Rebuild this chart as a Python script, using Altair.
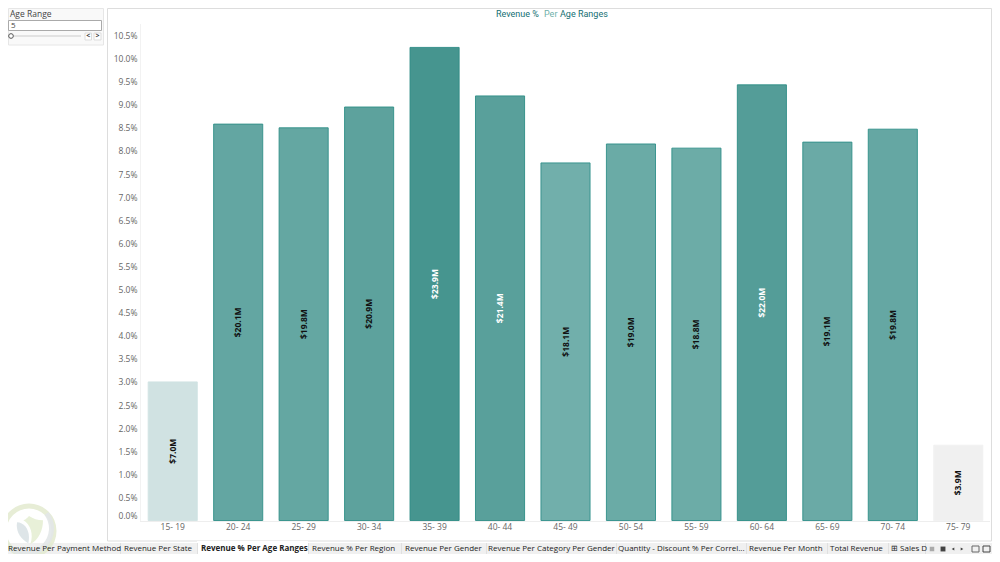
import altair as alt
import pandas as pd

categories = ["15- 19", "20- 24", "25- 29", "30- 34", "35- 39", "40- 44", "45- 49",
              "50- 54", "55- 59", "60- 64", "65- 69", "70- 74", "75- 79"]
share_pct = [3.0, 8.58, 8.50, 8.95, 10.24, 9.19, 7.74, 8.15, 8.06, 9.43, 8.19, 8.47, 1.63]
revenue_labels = ["$7.0M", "$20.1M", "$19.8M", "$20.9M", "$23.9M", "$21.4M", "$18.1M",
                  "$19.0M", "$18.8M", "$22.0M", "$19.1M", "$19.8M", "$3.9M"]
label_tone = ["dark", "dark", "dark", "dark", "light", "light", "dark",
              "dark", "dark", "light", "dark", "dark", "dark"]
tick_values = [i / 2 for i in range(0, 22)]
tab_names = ["Revenue Per Payment Method", "Revenue Per State", "Revenue % Per Age Ranges",
             "Revenue % Per Region", "Revenue Per Gender", "Revenue Per Category Per Gender",
             "Quantity - Discount % Per Correl...", "Revenue Per Month", "Total Revenue",
             "\u229e Sales D"]
tab_starts = [8, 124, 201, 312, 405, 488, 618, 749, 830, 891]
tab_seps = [120, 197, 308, 401, 486, 616, 746, 827, 888, 925]

# Plot area origin on the page
OX, OY = 140, 24
W, H = 851, 496.5
PX_PER_PCT = 46.2
TAB_Y = 549
PAGE_R, PAGE_B = 992, 554

df = pd.DataFrame({
    "age": categories, "share": share_pct, "mid": [v / 2 for v in share_pct],
    "label": revenue_labels, "tone": label_tone,
})

x_axis = alt.Axis(labelAngle=0, labelColor="#666666", labelFont="Open Sans",
                  labelFontSize=8.5, ticks=False, domain=False, labelPadding=2,
                  grid=False, zindex=1)
x_scale = alt.Scale(paddingInner=0.25, paddingOuter=0.125)
x_enc = alt.X("age:N", sort=categories, title=None, scale=x_scale, axis=x_axis)
y_scale = alt.Scale(domain=[0, H / PX_PER_PCT], nice=False)
y_axis = alt.Axis(values=tick_values, labelExpr="format(datum.value,'.1f')+'%'",
                  labelColor="#666666", labelFont="Open Sans", labelFontSize=8.5,
                  ticks=False, domain=False, grid=False, labelFlush=True, labelPadding=3,
                  labelOverlap=False, labelSeparation=0, zindex=1)
y_enc = alt.Y("share:Q", title=None, scale=y_scale, axis=y_axis)

bars = alt.Chart(df).mark_bar(strokeWidth=0.9).encode(
    x=x_enc, y=y_enc,
    color=alt.Color("share:Q", legend=None,
                    scale=alt.Scale(domain=[1.63, 3.0, 7.74, 10.24],
                                    range=["#f0f0f0", "#d0e2e2", "#71afab", "#46958f"])),
    stroke=alt.Stroke("share:Q", legend=None,
                      scale=alt.Scale(domain=[1.63, 3.0, 7.7, 10.24],
                                      range=["#f0f0f0", "#d0e2e2", "#30908a", "#2c8b84"])),
)
labels = alt.Chart(df).mark_text(angle=270, fontSize=8.5, fontWeight="bold",
                                 font="Open Sans", baseline="middle", align="center").encode(
    x=x_enc,
    y=alt.Y("mid:Q", title=None, scale=y_scale, axis=y_axis),
    text="label:N",
    color=alt.Color("tone:N", legend=None,
                    scale=alt.Scale(domain=["dark", "light"], range=["#111111", "#ffffff"])),
)

one = pd.DataFrame({"a": [0]})

def rect(x0, y0, x1, y1, fill="transparent", stroke=None, sw=1, opacity=1):
    kw = dict(fill=fill, opacity=opacity)
    if stroke:
        kw.update(stroke=stroke, strokeWidth=sw)
    return alt.Chart(one).mark_rect(**kw).encode(
        x=alt.value(x0 - OX), x2=alt.value(x1 - OX), y=alt.value(y0 - OY), y2=alt.value(y1 - OY))

def text(s, x, y, size=8.5, color="#333333", font="Open Sans", weight="normal", align="left", opacity=1):
    return alt.Chart(pd.DataFrame({"t": [s]})).mark_text(
        font=font, fontSize=size, color=color, fontWeight=weight, align=align,
        baseline="middle", opacity=opacity).encode(
        x=alt.value(x - OX), y=alt.value(y - OY), text="t:N")

def point(shape, x, y, size, fill="transparent", stroke=None, sw=1, opacity=1):
    kw = dict(shape=shape, fill=fill, size=size, opacity=opacity, filled=False)
    kw.update(stroke=stroke if stroke else "transparent", strokeWidth=sw)
    return alt.Chart(one).mark_point(**kw).encode(x=alt.value(x - OX), y=alt.value(y - OY))

chrome_back = [
    rect(107.5, 8.5, 991.5, 541, fill="#ffffff", stroke="#dddddd", sw=1),
    rect(140, 24, 141, 521, fill="#f2f2f2"),
    rect(140, 521, 990, 522, fill="#eeeeee"),
]
filter_box = [
    rect(8.5, 8.5, 103.5, 45, fill="#f9f9f9", stroke="#e6e6e6"),
    text("Age Range", 10, 14, size=8.5, color="#444444"),
    rect(8.5, 20.5, 101.5, 30.5, fill="#ffffff", stroke="#aaaaaa"),
    text("5", 11, 25.5, size=8, color="#444444"),
    rect(14, 35, 81, 37, fill="#e2e2e2"),
    point("circle", 11, 36, 22, fill="#ffffff", stroke="#555555"),
    rect(85, 33, 91.5, 40, fill="#ffffff", stroke="#dddddd"),
    rect(94, 33, 101, 40, fill="#ffffff", stroke="#dddddd"),
    text("<", 88.2, 36, size=7, color="#333333", align="center", weight="bold"),
    text(">", 97.6, 36, size=7, color="#333333", align="center", weight="bold"),
]
title = [
    text("Revenue %", 496, 13.5, size=9, color="#156f73", font="Roboto"),
    text("Per", 544, 13.5, size=9, color="#6fb0aa", font="Roboto"),
    text("Age Ranges", 560, 13.5, size=9, color="#156f73", font="Roboto"),
]
tabs_bg = [rect(0, 543, PAGE_R, PAGE_B, fill="#f0f0f0"), rect(197, 541, 308, PAGE_B, fill="#ffffff")]
for sep in tab_seps:
    tabs_bg.append(rect(sep, 543, sep + 1, PAGE_B, fill="#e0e0e0"))
logo = [
    point("circle", 29, 531, 2500, stroke="#e3ebd0", sw=5, opacity=0.85),
    point("M0.7,-0.7 A1,1 0 0 1 -0.7,0.7", 29, 531, 2500, stroke="#e3e7e8", sw=5, opacity=0.9),
    point("M0,-1 C0.3,-0.8 0.6,-0.7 1,-0.7 C1,0 0.7,0.7 0.1,1 C0.35,0.3 0.1,-0.4 -0.4,-0.7 C-0.2,-0.75 -0.1,-0.9 0,-1 Z",
          29, 530, 784, fill="#e6efd4", opacity=0.9),
    point("M-0.85,-0.55 C-0.3,-0.55 0.15,0.1 -0.05,0.95 C-0.7,0.6 -0.95,0 -0.85,-0.55 Z",
          29, 530, 784, fill="#dbe3e6", opacity=0.9),
]
tab_text = [text(name, start, TAB_Y, size=8, color="#222222", weight="bold" if i == 2 else "normal")
            for i, (name, start) in enumerate(zip(tab_names, tab_starts))]
icons = [
    point("square", 932, TAB_Y, 20, fill="#aaaaaa"),
    point("square", 943, TAB_Y, 24, fill="#444444"),
    point("triangle-left", 953, TAB_Y, 9, fill="#444444"),
    point("triangle-right", 962, TAB_Y, 9, fill="#444444"),
    rect(972, TAB_Y - 3, 979, TAB_Y + 3, stroke="#666666"),
    rect(983, TAB_Y - 3, 990, TAB_Y + 3, stroke="#444444"),
]

chart = alt.layer(
    *chrome_back, *filter_box, *title, bars, labels, *tabs_bg, *logo, *tab_text, *icons
).resolve_scale(color="independent").properties(
    width=W, height=H,
    autosize=alt.AutoSizeParams(type="none"),
    padding={"left": OX - 8, "top": OY - 8, "right": PAGE_R - OX - W, "bottom": PAGE_B - OY - H},
    background="#ffffff",
).configure_view(stroke=None)

chart.save("out.html", embed_options={"renderer": "svg", "actions": False})
